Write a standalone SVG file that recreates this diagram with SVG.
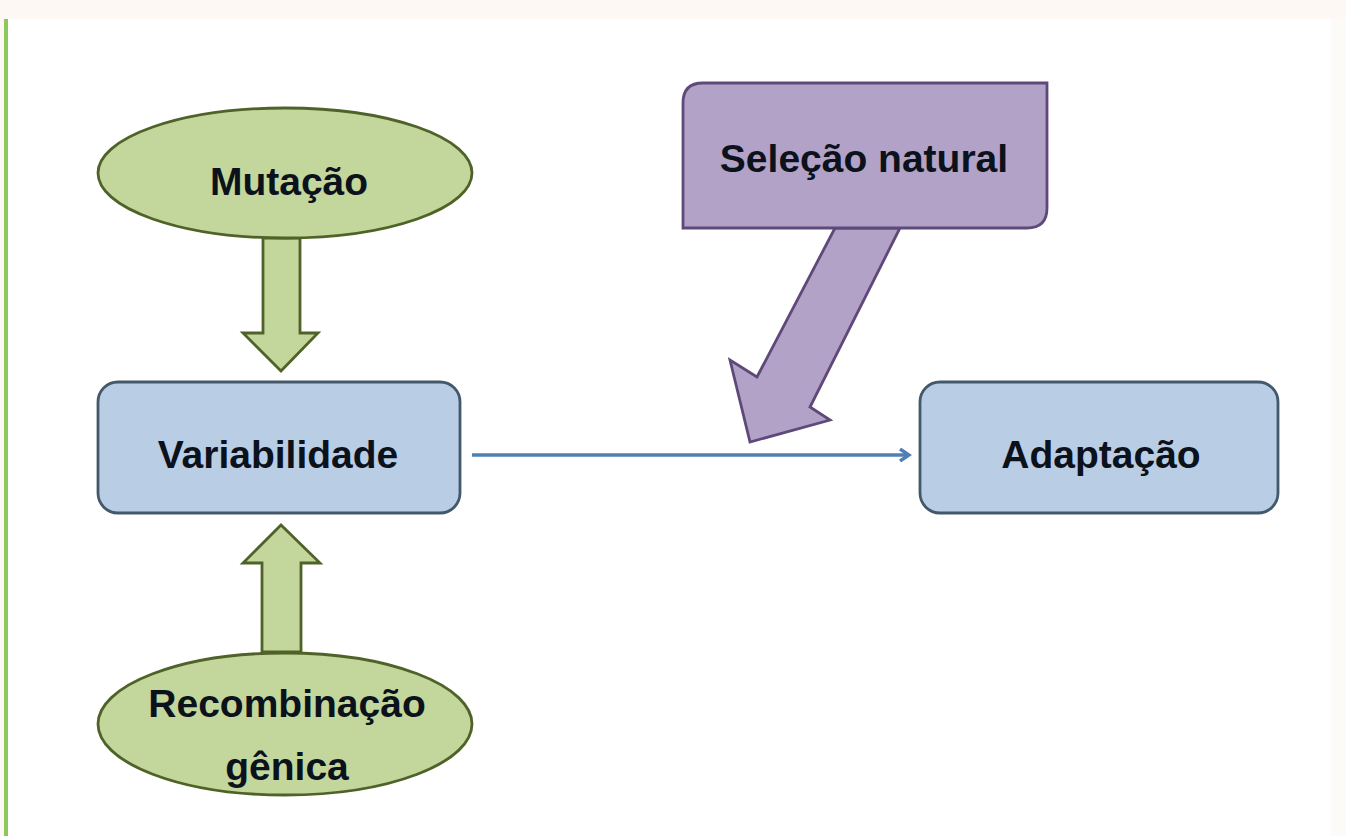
<svg xmlns="http://www.w3.org/2000/svg" width="1346" height="836" viewBox="0 0 1346 836">
<defs>
<style>
.lbl{font-family:"Liberation Sans",Arial,sans-serif;font-weight:bold;font-size:39px;fill:#0c121c;text-anchor:middle}
.green{fill:#c3d69b;stroke:#4f6228;stroke-width:2.8}
.blue{fill:#b9cde5;stroke:#44586b;stroke-width:2.8}
.purple{fill:#b3a2c7;stroke:#5f497a;stroke-width:2.8}
.conn{fill:none;stroke:#4f7fb5;stroke-width:3.5}
</style>
<marker id="ah" markerWidth="14" markerHeight="14" refX="10" refY="7" orient="auto" markerUnits="userSpaceOnUse">
<path d="M2,1 L11,7 L2,13" fill="none" stroke="#4f7fb5" stroke-width="3.5"/>
</marker>
</defs>
<rect x="0" y="0" width="1346" height="836" fill="#ffffff"/>
<rect x="0" y="0" width="1346" height="19" fill="#fdf8f3"/>
<rect x="0" y="19" width="4" height="817" fill="#fdf8f3"/>
<rect x="4" y="19" width="4" height="817" fill="#8cc85a"/>
<rect x="1331" y="19" width="15" height="817" fill="#fdfbf7"/>

<g id="connectors">
<line class="conn" x1="472" y1="455" x2="908" y2="455" marker-end="url(#ah)"/>
<polygon class="green" points="263,238 300,238 300,333 318,333 281,371 243,333 263,333"/>
<polygon class="green" points="262,652 301,652 301,563 320,563 281,525 243,563 262,563"/>
<polygon class="purple" points="835,228 900,228 810,407 830,420 750,442 730,360 757,377"/>
</g>

<g id="mutacao">
<ellipse class="green" cx="285" cy="173" rx="187" ry="65"/>
<text class="lbl" x="289" y="195">Mutação</text>
</g>

<g id="variabilidade">
<rect class="blue" x="98" y="382" width="362" height="131" rx="20" ry="20"/>
<text class="lbl" x="278" y="468">Variabilidade</text>
</g>

<g id="recombinacao">
<ellipse class="green" cx="285" cy="724" rx="187" ry="71"/>
<text class="lbl" x="287" y="717">Recombinação</text>
<text class="lbl" x="287" y="780">gênica</text>
</g>

<g id="selecao">
<path class="purple" d="M703,83 L1047,83 L1047,208 Q1047,228 1027,228 L683,228 L683,103 Q683,83 703,83 Z"/>
<text class="lbl" x="864" y="172">Seleção natural</text>
</g>

<g id="adaptacao">
<rect class="blue" x="920" y="382" width="358" height="131" rx="20" ry="20"/>
<text class="lbl" x="1101" y="468">Adaptação</text>
</g>
</svg>
